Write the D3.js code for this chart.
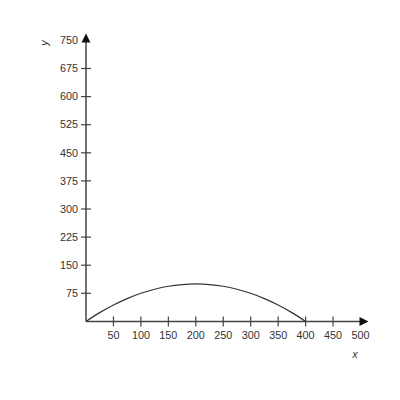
<!DOCTYPE html>
<html>
<head>
<meta charset="utf-8">
<script src="https://cdn.jsdelivr.net/npm/d3@7"></script>
<style>
  body { margin: 0; background: #fff; }
  svg { display: block; }
</style>
</head>
<body>
<svg id="chart" width="400" height="400"></svg>
<script>
const xTicks = [50, 100, 150, 200, 250, 300, 350, 400, 450, 500]
const yTicks = [75, 150, 225, 300, 375, 450, 525, 600, 675, 750]
const curveX = [0, 25, 50, 75, 100, 125, 150, 175, 200, 225, 250, 275, 300, 325, 350, 375, 400]
const curveY = [0, 23.4, 43.8, 60.9, 75, 85.9, 93.8, 98.4, 100, 98.4, 93.8, 85.9, 75, 60.9, 43.8, 23.4, 0]

const svg = d3.select('#chart')
const x = d3.scaleLinear().domain([0, 500]).range([86, 360.5])
const y = d3.scaleLinear().domain([0, 750]).range([321.4, 40.4])
const axisColor = '#444'
const textColor = '#333'

const g = svg.append('g')
  .attr('font-family', 'Liberation Sans, Arial, sans-serif')
  .attr('font-size', 10.8)

// axes lines
g.append('line')
  .attr('x1', x(0)).attr('x2', x(500) + 2)
  .attr('y1', y(0)).attr('y2', y(0))
  .attr('stroke', axisColor).attr('stroke-width', 1.5)
g.append('line')
  .attr('x1', x(0)).attr('x2', x(0))
  .attr('y1', y(0)).attr('y2', y(750) - 2)
  .attr('stroke', axisColor).attr('stroke-width', 1.5)

// arrow heads
const xe = x(500)
g.append('path')
  .attr('d', `M${xe - 1},${y(0) - 4.5}L${xe + 8},${y(0)}L${xe - 1},${y(0) + 4.5}Z`)
  .attr('fill', '#111')
const ye = y(750)
g.append('path')
  .attr('d', `M${x(0) - 4.5},${ye + 2}L${x(0)},${ye - 7}L${x(0) + 4.5},${ye + 2}Z`)
  .attr('fill', '#111')

// x ticks
g.selectAll('.xt')
  .data(xTicks.filter((d) => d < 500))
  .join('line')
  .attr('x1', (d) => x(d)).attr('x2', (d) => x(d))
  .attr('y1', y(0) - 5).attr('y2', y(0) + 5)
  .attr('stroke', axisColor).attr('stroke-width', 1.2)
g.selectAll('.xl')
  .data(xTicks)
  .join('text')
  .attr('x', (d) => x(d)).attr('y', y(0) + 17.5)
  .attr('text-anchor', 'middle')
  .attr('fill', textColor)
  .text((d) => d)

// y ticks
g.selectAll('.yt')
  .data(yTicks.filter((d) => d < 750))
  .join('line')
  .attr('x1', x(0) - 5).attr('x2', x(0) + 5)
  .attr('y1', (d) => y(d)).attr('y2', (d) => y(d))
  .attr('stroke', axisColor).attr('stroke-width', 1.2)
g.selectAll('.yl')
  .data(yTicks)
  .join('text')
  .attr('x', x(0) - 8).attr('y', (d) => y(d))
  .attr('dy', '0.35em')
  .attr('text-anchor', 'end')
  .attr('fill', textColor)
  .text((d) => d)

// axis titles
g.append('text')
  .attr('x', 355).attr('y', 358)
  .attr('text-anchor', 'middle')
  .attr('font-style', 'italic')
  .attr('fill', textColor)
  .text('x')
g.append('text')
  .attr('transform', 'translate(48,43) rotate(-90)')
  .attr('text-anchor', 'middle')
  .attr('font-style', 'italic')
  .attr('fill', textColor)
  .text('y')

// curve
const pts = curveX.map((d, i) => [d, curveY[i]])
g.append('path')
  .datum(pts)
  .attr('fill', 'none')
  .attr('stroke', '#333')
  .attr('stroke-width', 1.2)
  .attr('d', d3.line().x((d) => x(d[0])).y((d) => y(d[1])).curve(d3.curveMonotoneX))
</script>
</body>
</html>
